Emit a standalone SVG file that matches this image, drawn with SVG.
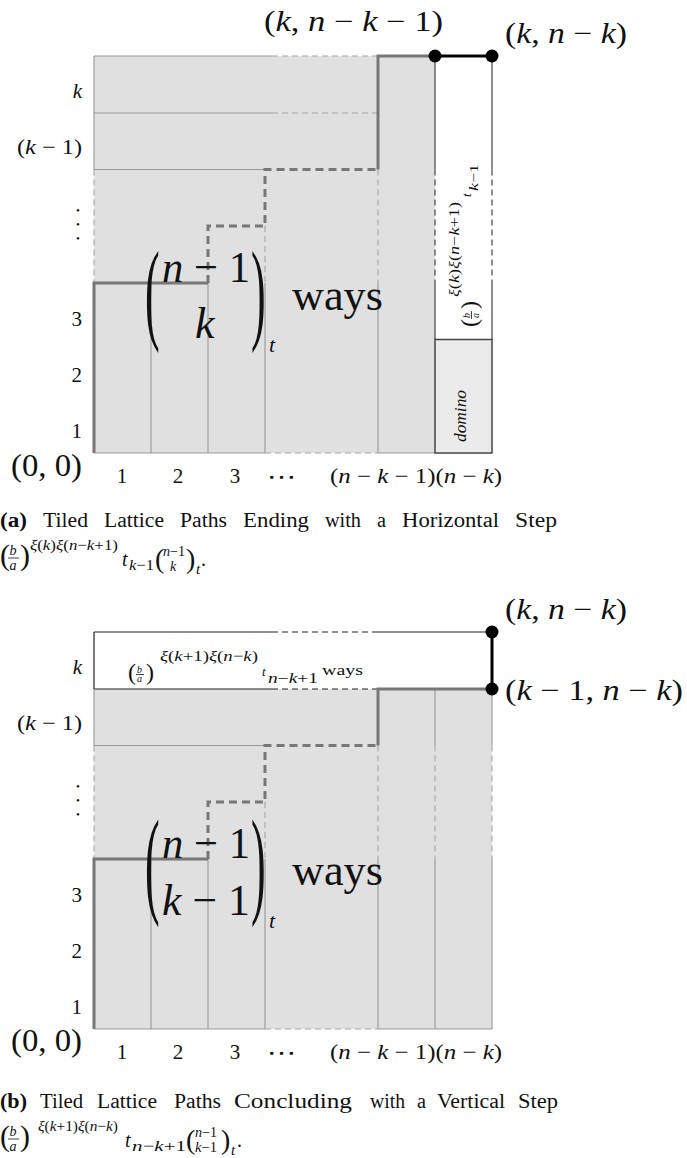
<svg xmlns="http://www.w3.org/2000/svg" width="687" height="1158" viewBox="0 0 687 1158">
<style>
text{font-family:'Liberation Serif',serif;fill:#111}
.i{font-style:italic}
.dv{font-family:'DejaVu Sans',sans-serif}
.fill{fill:#e0e0e0}
.g{stroke:#999;stroke-width:1.1;fill:none}
.gd{stroke:#a6a6a6;stroke-width:1.1;stroke-dasharray:6 4;fill:none}
.dk{stroke:#444;stroke-width:1.2;fill:none}
.dkd{stroke:#444;stroke-width:1.2;stroke-dasharray:6 4;fill:none}
.kk{stroke:#222;stroke-width:1.2;fill:none}
.kkd{stroke:#222;stroke-width:1.2;stroke-dasharray:6 4;fill:none}
.p{stroke:#777;stroke-width:3;fill:none}
.pd{stroke:#777;stroke-width:3;stroke-dasharray:8 5;fill:none}
.blk{stroke:#000;stroke-width:3;fill:none}
.dot{fill:#000}
.bar{stroke:#111;stroke-width:0.8}
.cap{font-size:20px}
.vd{font-size:11px}
</style>

<!-- ===================== (a) ===================== -->
<g id="a-grid">
<rect class="fill" x="94" y="56" width="341" height="397"/>
<path class="g" d="M94,56H272 M94,113H272 M94,169.5H265 M94,56V169.5 M151,283V453 M208,283V453 M265,283V453 M378,283V453 M94,453H265 M378,453H435"/>
<path class="gd" d="M272,56H378 M272,113H378 M94,169.5V283 M265,226V283 M378,169.5V283 M265,453H378"/>
<path class="dk" d="M435,56V169.5 M492,56V169.5 M435,283V339.5 M492,283V339.5"/>
<path class="dkd" d="M435,169.5V283 M492,169.5V283"/>
</g>
<g id="a-domino">
<rect x="435" y="339.5" width="57" height="113.5" fill="#ebebeb" stroke="#444" stroke-width="1.5"/>
<text transform="translate(466,442) rotate(-90)" font-size="16" class="i" textLength="52" lengthAdjust="spacingAndGlyphs">domino</text>
</g>
<g id="a-weight" transform="translate(477,327) rotate(-90)">
<text x="0" y="0" font-size="24">(</text>
<text x="9" y="-7.5" font-size="10" class="i">b</text>
<line class="bar" x1="8" y1="-5.5" x2="16" y2="-5.5"/>
<text x="9" y="1.5" font-size="10" class="i">a</text>
<text x="18" y="0" font-size="24">)</text>
<text x="30" y="-18" font-size="14" textLength="95" lengthAdjust="spacingAndGlyphs"><tspan class="i">ξ</tspan>(<tspan class="i">k</tspan>)<tspan class="i">ξ</tspan>(<tspan class="i">n</tspan>−<tspan class="i">k</tspan>+1)</text>
<text x="130" y="-6" font-size="13" class="i">t</text>
<text x="136" y="1" font-size="13" textLength="27" lengthAdjust="spacingAndGlyphs"><tspan class="i">k</tspan>−1</text>
</g>
<g id="a-path">
<path class="p" d="M94,453V283H208"/>
<path class="pd" d="M208,283V226H265V169.5H378"/>
<path class="p" d="M378,169.5V56H435"/>
<path class="blk" d="M435,56H492"/>
<circle class="dot" cx="435" cy="56" r="6.5"/>
<circle class="dot" cx="492" cy="56" r="6.5"/>
</g>
<g id="a-binomial">
<text transform="translate(145,329) scale(1,2.55)" font-size="44">(</text>
<text transform="translate(251,329) scale(1,2.55)" font-size="44">)</text>
<text x="162" y="282" font-size="44" textLength="88" lengthAdjust="spacingAndGlyphs"><tspan class="i">n</tspan> − 1</text>
<text x="195" y="338" font-size="44" class="i">k</text>
<text x="269" y="352" font-size="22" class="i">t</text>
<text x="292" y="310" font-size="44" textLength="91" lengthAdjust="spacingAndGlyphs">ways</text>
</g>
<g id="a-labels">
<text x="264" y="31" font-size="29" textLength="179" lengthAdjust="spacingAndGlyphs">(<tspan class="i">k</tspan>, <tspan class="i">n</tspan> − <tspan class="i">k</tspan> − 1)</text>
<text x="505" y="43" font-size="29" textLength="122" lengthAdjust="spacingAndGlyphs">(<tspan class="i">k</tspan>, <tspan class="i">n</tspan> − <tspan class="i">k</tspan>)</text>
<text x="82" y="98" font-size="21" text-anchor="end" class="i">k</text>
<text x="82" y="154" font-size="21" text-anchor="end" textLength="65" lengthAdjust="spacingAndGlyphs">(<tspan class="i">k</tspan> − 1)</text>
<text class="vd" text-anchor="middle"><tspan x="78" y="214">•</tspan><tspan x="78" y="228">•</tspan><tspan x="78" y="242">•</tspan></text>
<text x="82" y="326" font-size="21" text-anchor="end">3</text>
<text x="82" y="382" font-size="21" text-anchor="end">2</text>
<text x="82" y="438" font-size="21" text-anchor="end">1</text>
<text x="11" y="476" font-size="31" textLength="71" lengthAdjust="spacingAndGlyphs">(0, 0)</text>
<text x="122" y="483" font-size="21" text-anchor="middle">1</text>
<text x="178" y="483" font-size="21" text-anchor="middle">2</text>
<text x="235" y="483" font-size="21" text-anchor="middle">3</text>
<text x="267" y="484" font-size="21" class="dv" textLength="30" lengthAdjust="spacingAndGlyphs">⋯</text>
<text x="330" y="483" font-size="21" textLength="172" lengthAdjust="spacingAndGlyphs">(<tspan class="i">n</tspan> − <tspan class="i">k</tspan> − 1)(<tspan class="i">n</tspan> − <tspan class="i">k</tspan>)</text>
</g>
<g id="a-caption">
<text class="cap" x="0" y="527" font-weight="bold" textLength="27" lengthAdjust="spacingAndGlyphs">(a)</text>
<text class="cap" x="43" y="527" textLength="45" lengthAdjust="spacingAndGlyphs">Tiled</text>
<text class="cap" x="104" y="527" textLength="60" lengthAdjust="spacingAndGlyphs">Lattice</text>
<text class="cap" x="180" y="527" textLength="47" lengthAdjust="spacingAndGlyphs">Paths</text>
<text class="cap" x="243" y="527" textLength="66" lengthAdjust="spacingAndGlyphs">Ending</text>
<text class="cap" x="325" y="527" textLength="36" lengthAdjust="spacingAndGlyphs">with</text>
<text class="cap" x="377" y="527" textLength="9" lengthAdjust="spacingAndGlyphs">a</text>
<text class="cap" x="402" y="527" textLength="97" lengthAdjust="spacingAndGlyphs">Horizontal</text>
<text class="cap" x="515" y="527" textLength="42" lengthAdjust="spacingAndGlyphs">Step</text>
<text x="0" y="565" font-size="30">(</text>
<text x="9.5" y="555" font-size="14" class="i">b</text>
<line class="bar" x1="8" y1="558" x2="19" y2="558"/>
<text x="9.5" y="570" font-size="14" class="i">a</text>
<text x="20" y="565" font-size="30">)</text>
<text x="30" y="550" font-size="15" textLength="88" lengthAdjust="spacingAndGlyphs"><tspan class="i">ξ</tspan>(<tspan class="i">k</tspan>)<tspan class="i">ξ</tspan>(<tspan class="i">n</tspan>−<tspan class="i">k</tspan>+1)</text>
<text x="122" y="566" font-size="20" class="i">t</text>
<text x="129" y="570" font-size="15" textLength="25" lengthAdjust="spacingAndGlyphs"><tspan class="i">k</tspan>−1</text>
<text x="155" y="568" font-size="28">(</text>
<text x="163" y="556" font-size="14" textLength="22" lengthAdjust="spacingAndGlyphs"><tspan class="i">n</tspan>−1</text>
<text x="170" y="571" font-size="14" class="i">k</text>
<text x="186" y="568" font-size="28">)</text>
<text x="196" y="574" font-size="15" class="i">t</text>
<text x="201" y="566" font-size="20">.</text>
</g>

<!-- ===================== (b) ===================== -->
<g id="b-grid">
<rect class="fill" x="94" y="689" width="398" height="340"/>
<rect x="94" y="632" width="398" height="57" fill="#ffffff"/>
<path class="kk" d="M94,632H272 M378,632H492 M94,689H272 M94,632V689"/>
<path class="kkd" d="M272,632H378 M272,689H378"/>
<path class="g" d="M94,689V745.5 M94,745.5H265 M151,859V1029 M208,859V1029 M265,859V1029 M378,859V1029 M435,859V1029 M492,859V1029 M435,689V745.5 M492,689V745.5 M94,1029H265 M378,1029H492"/>
<path class="gd" d="M94,745.5V859 M265,802V859 M378,745.5V859 M435,745.5V859 M492,745.5V859 M265,1029H378"/>
</g>
<g id="b-weight">
<text x="128" y="680" font-size="24">(</text>
<text x="137" y="672.5" font-size="10" class="i">b</text>
<line class="bar" x1="136" y1="674.5" x2="144" y2="674.5"/>
<text x="137" y="681.5" font-size="10" class="i">a</text>
<text x="146" y="680" font-size="24">)</text>
<text x="160" y="661" font-size="15" textLength="98" lengthAdjust="spacingAndGlyphs"><tspan class="i">ξ</tspan>(<tspan class="i">k</tspan>+1)<tspan class="i">ξ</tspan>(<tspan class="i">n</tspan>−<tspan class="i">k</tspan>)</text>
<text x="262" y="676" font-size="13" class="i">t</text>
<text x="268" y="683" font-size="14" textLength="50" lengthAdjust="spacingAndGlyphs"><tspan class="i">n</tspan>−<tspan class="i">k</tspan>+1</text>
<text x="322" y="675" font-size="14" textLength="41" lengthAdjust="spacingAndGlyphs">ways</text>
</g>
<g id="b-path">
<path class="p" d="M94,1029V859H208"/>
<path class="pd" d="M208,859V802H265V745.5H378"/>
<path class="p" d="M378,745.5V689H492"/>
<path class="blk" d="M492,632V689"/>
<circle class="dot" cx="492" cy="632" r="6.5"/>
<circle class="dot" cx="492" cy="689" r="6.5"/>
</g>
<g id="b-binomial">
<text transform="translate(145,902) scale(1,2.7)" font-size="44">(</text>
<text transform="translate(251,902) scale(1,2.7)" font-size="44">)</text>
<text x="162" y="858" font-size="44" textLength="88" lengthAdjust="spacingAndGlyphs"><tspan class="i">n</tspan> − 1</text>
<text x="162" y="915" font-size="44" textLength="88" lengthAdjust="spacingAndGlyphs"><tspan class="i">k</tspan> − 1</text>
<text x="269" y="928" font-size="22" class="i">t</text>
<text x="292" y="885" font-size="44" textLength="91" lengthAdjust="spacingAndGlyphs">ways</text>
</g>
<g id="b-labels">
<text x="505" y="619" font-size="29" textLength="122" lengthAdjust="spacingAndGlyphs">(<tspan class="i">k</tspan>, <tspan class="i">n</tspan> − <tspan class="i">k</tspan>)</text>
<text x="505" y="700" font-size="29" textLength="178" lengthAdjust="spacingAndGlyphs">(<tspan class="i">k</tspan> − 1, <tspan class="i">n</tspan> − <tspan class="i">k</tspan>)</text>
<text x="82" y="674" font-size="21" text-anchor="end" class="i">k</text>
<text x="82" y="730" font-size="21" text-anchor="end" textLength="65" lengthAdjust="spacingAndGlyphs">(<tspan class="i">k</tspan> − 1)</text>
<text class="vd" text-anchor="middle"><tspan x="78" y="790">•</tspan><tspan x="78" y="804">•</tspan><tspan x="78" y="818">•</tspan></text>
<text x="82" y="902" font-size="21" text-anchor="end">3</text>
<text x="82" y="958" font-size="21" text-anchor="end">2</text>
<text x="82" y="1014" font-size="21" text-anchor="end">1</text>
<text x="11" y="1051" font-size="31" textLength="71" lengthAdjust="spacingAndGlyphs">(0, 0)</text>
<text x="122" y="1059" font-size="21" text-anchor="middle">1</text>
<text x="178" y="1059" font-size="21" text-anchor="middle">2</text>
<text x="235" y="1059" font-size="21" text-anchor="middle">3</text>
<text x="267" y="1060" font-size="21" class="dv" textLength="30" lengthAdjust="spacingAndGlyphs">⋯</text>
<text x="330" y="1059" font-size="21" textLength="172" lengthAdjust="spacingAndGlyphs">(<tspan class="i">n</tspan> − <tspan class="i">k</tspan> − 1)(<tspan class="i">n</tspan> − <tspan class="i">k</tspan>)</text>
</g>
<g id="b-caption">
<text class="cap" x="0" y="1108" font-weight="bold" textLength="27" lengthAdjust="spacingAndGlyphs">(b)</text>
<text class="cap" x="40" y="1108" textLength="43" lengthAdjust="spacingAndGlyphs">Tiled</text>
<text class="cap" x="97" y="1108" textLength="60" lengthAdjust="spacingAndGlyphs">Lattice</text>
<text class="cap" x="174" y="1108" textLength="47" lengthAdjust="spacingAndGlyphs">Paths</text>
<text class="cap" x="234" y="1108" textLength="118" lengthAdjust="spacingAndGlyphs">Concluding</text>
<text class="cap" x="370" y="1108" textLength="35" lengthAdjust="spacingAndGlyphs">with</text>
<text class="cap" x="417" y="1108" textLength="9" lengthAdjust="spacingAndGlyphs">a</text>
<text class="cap" x="437" y="1108" textLength="68" lengthAdjust="spacingAndGlyphs">Vertical</text>
<text class="cap" x="518" y="1108" textLength="40" lengthAdjust="spacingAndGlyphs">Step</text>
<text x="0" y="1146" font-size="30">(</text>
<text x="9.5" y="1136" font-size="14" class="i">b</text>
<line class="bar" x1="8" y1="1139" x2="19" y2="1139"/>
<text x="9.5" y="1151" font-size="14" class="i">a</text>
<text x="20" y="1146" font-size="30">)</text>
<text x="38" y="1131" font-size="15" textLength="80" lengthAdjust="spacingAndGlyphs"><tspan class="i">ξ</tspan>(<tspan class="i">k</tspan>+1)<tspan class="i">ξ</tspan>(<tspan class="i">n</tspan>−<tspan class="i">k</tspan>)</text>
<text x="125" y="1147" font-size="20" class="i">t</text>
<text x="132" y="1151" font-size="15" textLength="54" lengthAdjust="spacingAndGlyphs"><tspan class="i">n</tspan>−<tspan class="i">k</tspan>+1</text>
<text x="186" y="1149" font-size="28">(</text>
<text x="195" y="1137" font-size="14" textLength="22" lengthAdjust="spacingAndGlyphs"><tspan class="i">n</tspan>−1</text>
<text x="195" y="1152" font-size="14" textLength="22" lengthAdjust="spacingAndGlyphs"><tspan class="i">k</tspan>−1</text>
<text x="221" y="1149" font-size="28">)</text>
<text x="231" y="1155" font-size="15" class="i">t</text>
<text x="237" y="1147" font-size="20">.</text>
</g>
</svg>
